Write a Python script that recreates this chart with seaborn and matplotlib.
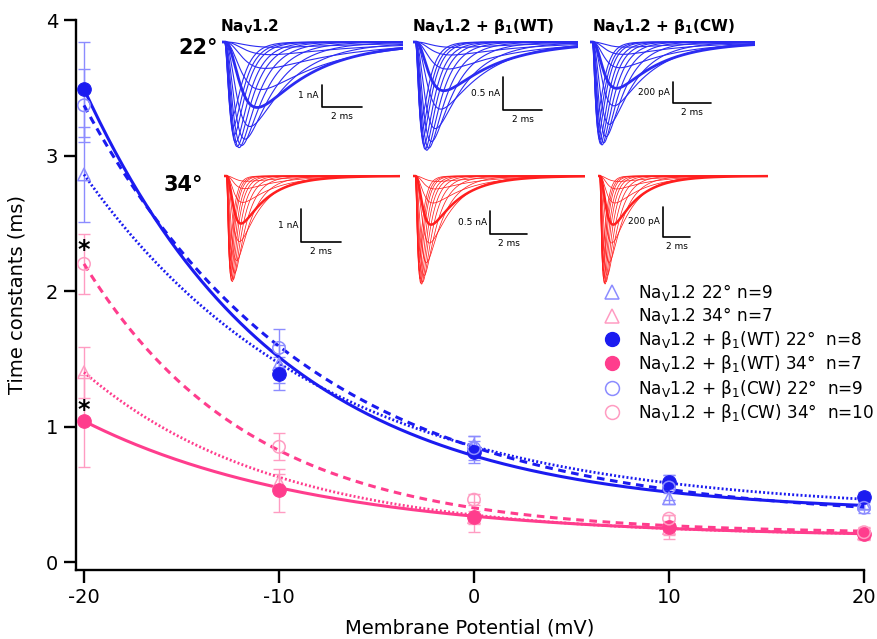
import numpy as np
import pandas as pd
import seaborn as sns
import matplotlib
matplotlib.use("Agg")
import matplotlib.pyplot as plt
from matplotlib.lines import Line2D

# ---------------- data ----------------
voltage = [-20, -10, 0, 10, 20]

nav_22 = [2.86, 1.46, 0.86, 0.47, 0.43]
nav_22_err = [0.35, 0.14, 0.07, 0.04, 0.04]
nav_34 = [1.40, 0.59, 0.33, 0.25, 0.21]
nav_34_err = [0.19, 0.06, 0.05, 0.05, 0.04]
wt_22 = [3.49, 1.39, 0.81, 0.59, 0.48]
wt_22_err = [0.35, 0.12, 0.08, 0.05, 0.04]
wt_34 = [1.04, 0.53, 0.33, 0.26, 0.21]
wt_34_err = [0.34, 0.16, 0.11, 0.09, 0.05]
cw_22 = [3.37, 1.58, 0.84, 0.55, 0.40]
cw_22_err = [0.27, 0.14, 0.09, 0.09, 0.04]
cw_34 = [2.20, 0.85, 0.46, 0.32, 0.22]
cw_34_err = [0.22, 0.10, 0.04, 0.03, 0.03]

# exponential fit parameters: tau = C + A*exp(-(V+20)/k)
# order: Nav22, Nav34, WT22, WT34, CW22, CW34
fit_A = [2.49, 1.21, 3.13, 0.86, 3.06, 1.99]
fit_k = [12.2, 9.8, 10.0, 11.8, 11.5, 8.5]
fit_C = [0.37, 0.19, 0.36, 0.18, 0.31, 0.21]

legend_labels = [
    r"Na$_\mathregular{V}$1.2 22° n=9",
    r"Na$_\mathregular{V}$1.2 34° n=7",
    r"Na$_\mathregular{V}$1.2 + β$_\mathregular{1}$(WT) 22°  n=8",
    r"Na$_\mathregular{V}$1.2 + β$_\mathregular{1}$(WT) 34°  n=7",
    r"Na$_\mathregular{V}$1.2 + β$_\mathregular{1}$(CW) 22°  n=9",
    r"Na$_\mathregular{V}$1.2 + β$_\mathregular{1}$(CW) 34°  n=10",
]
x_ticks = [-20, -10, 0, 10, 20]
y_ticks = [0, 1, 2, 3, 4]
star_pos = [2.30, 1.12]

# inset current-trace families (relative amplitude, activation / inactivation taus, ms)
fam_rel_amp = [0.05, 0.12, 0.25, 0.45, 0.62, 0.80, 0.92, 0.98, 1.00, 0.99, 0.95, 0.88, 0.80, 0.70]
fam_tau_m = [0.9, 0.8, 0.72, 0.65, 0.6, 0.5, 0.42, 0.36, 0.31, 0.27, 0.24, 0.21, 0.19, 0.17]
fam_tau_h = [5.0, 4.5, 4.0, 3.4, 2.85, 2.0, 1.5, 1.2, 1.0, 0.85, 0.75, 0.65, 0.6, 0.55]
panel_titles = [r"Na$_\mathbf{V}$1.2", r"Na$_\mathbf{V}$1.2 + β$_\mathbf{1}$(WT)",
                r"Na$_\mathbf{V}$1.2 + β$_\mathbf{1}$(CW)"]
blue_peak_nA = [4.8, 1.64, 0.98]
red_peak_nA = [3.2, 2.35, 0.72]
blue_tscale = [1.0, 0.8, 0.7]
red_tscale = [0.4, 0.47, 0.55]
thick_idx_blue = [4, 3, 3]
thick_idx_red = [3, 3, 3]
amp_bar = [1.0, 0.5, 0.2]
amp_bar_label = ["1 nA", "0.5 nA", "200 pA"]
time_bar = 2.0

# ---------------- layout (pixels) ----------------
W, H = 878, 639
BLUE = "#1b1bf0"
PINK = "#ff3d8d"
BLUE_L = "#8c8cff"
PINK_L = "#ff9cc2"
TRACE_BLUE = "#2b2bf2"
TRACE_RED = "#ff1f1f"

sns.set_style("ticks")
plt.rcParams["font.family"] = ["DejaVu Sans"]
plt.rcParams["lines.scale_dashes"] = False
plt.rcParams["mathtext.default"] = "regular"
for key in ("text.color", "axes.labelcolor", "xtick.color", "ytick.color", "axes.edgecolor"):
    plt.rcParams[key] = "black"

fig = plt.figure(figsize=(W / 100, H / 100), dpi=100)
ax = fig.add_axes([76 / W, 1 - 570 / H, (864 - 76) / W, (570 - 20) / H])

series = [
    (nav_22, nav_22_err, BLUE, BLUE_L, "^", False, "dot"),
    (nav_34, nav_34_err, PINK, PINK_L, "^", False, "dot"),
    (wt_22, wt_22_err, BLUE, BLUE_L, "o", True, "solid"),
    (wt_34, wt_34_err, PINK, PINK_L, "o", True, "solid"),
    (cw_22, cw_22_err, BLUE, BLUE_L, "o", False, "dash"),
    (cw_34, cw_34_err, PINK, PINK_L, "o", False, "dash"),
]
order = [1, 3, 5, 0, 2, 4]
vgrid = np.linspace(voltage[0], voltage[-1], 300)
for i in order:
    vals, err, col, light, mk, filled, ls = series[i]
    fit = fit_C[i] + fit_A[i] * np.exp(-(vgrid - voltage[0]) / fit_k[i])
    sns.lineplot(x=vgrid, y=fit, ax=ax, color=col, lw=2.2 if ls != "dot" else 2.0,
                 zorder=3)
    ln = ax.lines[-1]
    if ls == "dash":
        ln.set_dashes((5.5, 4.0))
    elif ls == "dot":
        ln.set_dashes((1.4, 1.6))
    ax.errorbar(voltage, vals, yerr=err, fmt="none", ecolor=light, elinewidth=1.0,
                capsize=4.5, capthick=1.0, zorder=2, clip_on=False)
for i in order:
    vals, err, col, light, mk, filled, ls = series[i]
    if filled:
        sns.scatterplot(x=voltage, y=vals, ax=ax, marker=mk, s=95, color=col,
                        edgecolor=col, linewidth=0.8, zorder=5, clip_on=False)
    else:
        sns.scatterplot(x=voltage, y=vals, ax=ax, marker=mk, s=80, facecolor="none",
                        edgecolor=light, linewidth=1.1, zorder=5, clip_on=False)

for yv in star_pos:
    ax.text(-20, yv, "*", ha="center", va="center", fontsize=17, fontweight="bold",
            color="black", zorder=6)

ax.set_xlim(-20.41, 20)
ax.set_ylim(-0.059, 4.0)
ax.set_xticks(x_ticks)
ax.set_yticks(y_ticks)
ax.set_xticklabels([str(t) for t in x_ticks])
ax.set_yticklabels([str(t) for t in y_ticks])
sns.despine(ax=ax)
for s in ("left", "bottom"):
    ax.spines[s].set_linewidth(1.7)
    ax.spines[s].set_color("black")
ax.tick_params(direction="out", length=9, width=1.7, labelsize=14, pad=4, colors="black")
ax.set_xlabel("Membrane Potential (mV)", fontsize=14, labelpad=8)
ax.set_ylabel("Time constants (ms)", fontsize=14, labelpad=14)

handles = []
for vals, err, col, light, mk, filled, ls in series:
    if filled:
        handles.append(Line2D([], [], marker=mk, linestyle="none", color=col,
                              markersize=10))
    else:
        handles.append(Line2D([], [], marker=mk, linestyle="none", markerfacecolor="none",
                              markeredgecolor=light, markeredgewidth=1.1, markersize=10))
ax.legend(handles=handles, labels=legend_labels, loc="upper left",
          bbox_to_anchor=(604 / W, 1 - 282 / H), bbox_transform=fig.transFigure,
          frameon=False, fontsize=12.2, handlelength=1.0, handletextpad=1.0,
          labelspacing=0.145, borderpad=0, borderaxespad=0)


# ---------------- inset traces ----------------
def draw_panel(x0, base, width, px_ms, px_nA, peak, tscale, thick, color, lw_thin, lw_thick,
               corner, bar_i):
    top, bottom = 10, 125
    pax = fig.add_axes([x0 / W, 1 - (base + bottom) / H, width / W, (top + bottom) / H])
    pax.set_axis_off()
    tmax = width / px_ms
    pax.set_xlim(0, tmax)
    pax.set_ylim(-bottom / px_nA, top / px_nA)
    t = np.linspace(0, tmax, 700)
    for k, (ra, tm, th) in enumerate(zip(fam_rel_amp, fam_tau_m, fam_tau_h)):
        tt = np.clip(t - 0.12, 0, None)
        f = (1 - np.exp(-tt / (tm * tscale))) ** 3 * np.exp(-tt / (th * tscale))
        cur = -peak * ra * f / f.max()
        pax.plot(t, cur, color=color, lw=lw_thick if k == thick else lw_thin,
                 zorder=3 if k == thick else 2, solid_joinstyle="round")
    # scale bars
    cx = (corner[0] - x0) / px_ms
    cy = -(corner[1] - base) / px_nA
    pax.plot([cx, cx, cx + time_bar], [cy + amp_bar[bar_i], cy, cy], color="black", lw=1.2,
             clip_on=False)
    pax.text(cx - 3 / px_ms, cy + amp_bar[bar_i] / 2, amp_bar_label[bar_i], ha="right",
             va="center", fontsize=6.5)
    pax.text(cx + time_bar / 2, cy - 5 / px_nA, "2 ms", ha="center", va="top", fontsize=6.5)
    return pax


blue_x0 = [222, 413, 590]
red_x0 = [224, 413, 598]
blue_w = [181, 165, 165]
red_w = [176, 172, 170]
blue_px_ms = [20, 19.5, 19]
red_px_ms = [20, 18.5, 13.5]
blue_px_nA = [22, 66, 105]
red_px_nA = [33, 46, 150]
blue_corner = [(322, 107), (503, 110), (673, 103)]
red_corner = [(301, 242), (490, 234), (663, 237)]
title_x = [220, 412, 592]

for j in range(3):
    draw_panel(blue_x0[j], 42, blue_w[j], blue_px_ms[j], blue_px_nA[j], blue_peak_nA[j],
               blue_tscale[j], thick_idx_blue[j], TRACE_BLUE, 0.8, 2.0, blue_corner[j], j)
    draw_panel(red_x0[j], 176, red_w[j], red_px_ms[j], red_px_nA[j], red_peak_nA[j],
               red_tscale[j], thick_idx_red[j], TRACE_RED, 0.55, 1.8, red_corner[j], j)
    fig.text(title_x[j] / W, 1 - 27 / H, panel_titles[j], ha="left", va="center",
             fontsize=11, fontweight="bold")

fig.text(178 / W, 1 - 48 / H, "22°", ha="left", va="center", fontsize=15, fontweight="bold")
fig.text(164 / W, 1 - 185 / H, "34°", ha="left", va="center", fontsize=15, fontweight="bold")

fig.savefig("out.png", dpi=100)
